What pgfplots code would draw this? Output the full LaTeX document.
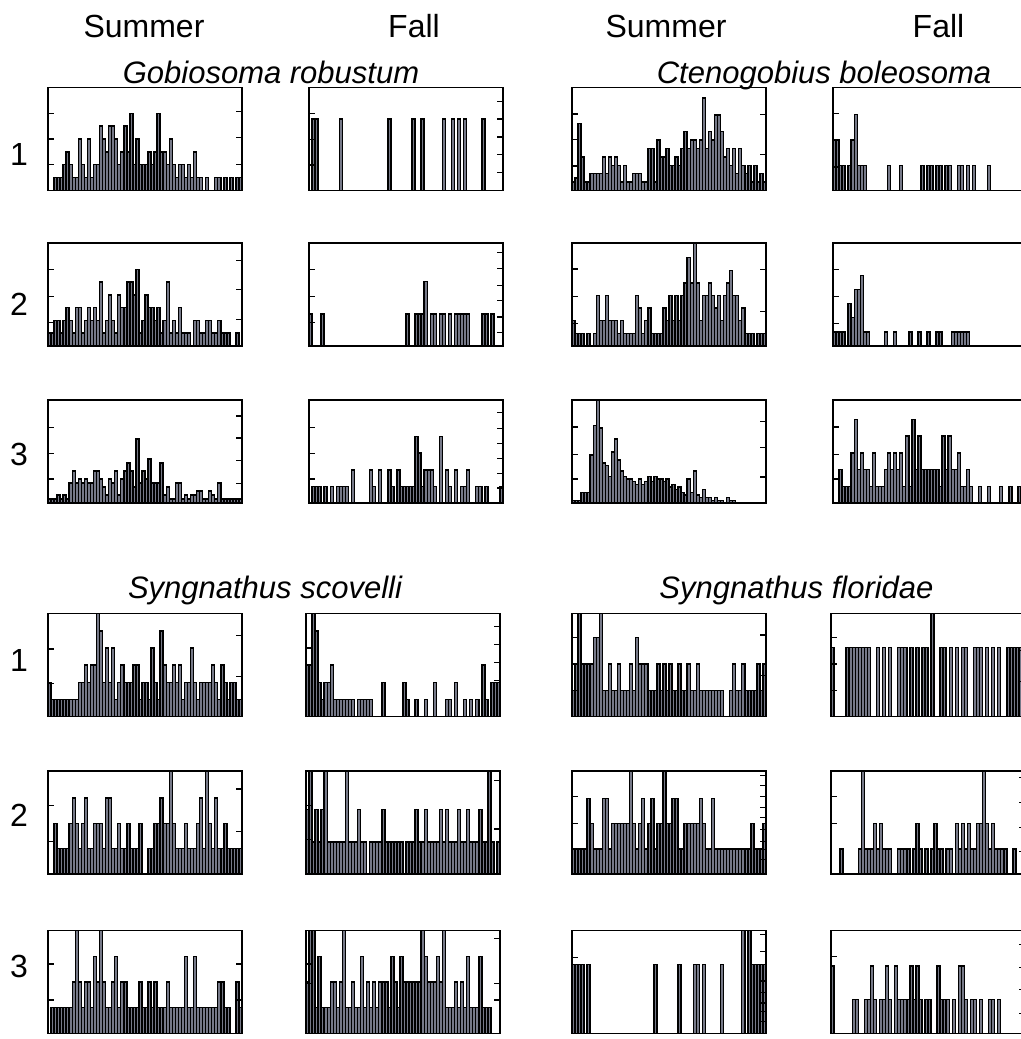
\documentclass[border=0pt]{standalone}
\usepackage{pgfplots}
\pgfplotsset{compat=1.18}
\usepackage{pgfplotstable}
\usepackage{fontspec}
\setmainfont{Liberation Sans}

\definecolor{barfill}{RGB}{118,121,136}

% ---------- length-frequency counts, 64 size classes per panel ----------
% Gobiosoma robustum
\pgfplotstableread[row sep=\\]{n\\ 0\\0\\1\\1\\1\\2\\3\\2\\1\\1\\ 4\\2\\1\\4\\1\\2\\2\\5\\4\\3\\ 5\\5\\4\\2\\3\\5\\3\\6\\2\\4\\ 2\\2\\2\\3\\2\\3\\6\\3\\3\\2\\ 4\\2\\1\\2\\2\\1\\2\\1\\3\\1\\ 1\\0\\1\\0\\0\\1\\1\\0\\1\\0\\ 1\\0\\1\\1\\}\gobSa
\pgfplotstableread[row sep=\\]{n\\ 0\\4\\4\\0\\0\\0\\0\\0\\0\\0\\ 4\\0\\0\\0\\0\\0\\0\\0\\0\\0\\ 0\\0\\0\\0\\0\\0\\4\\0\\0\\0\\ 0\\0\\0\\0\\4\\0\\0\\4\\0\\0\\ 0\\0\\0\\0\\4\\0\\0\\4\\0\\4\\ 0\\4\\0\\0\\0\\0\\0\\4\\0\\0\\ 0\\0\\0\\0\\}\gobFa
\pgfplotstableread[row sep=\\]{n\\ 1\\1\\2\\2\\1\\2\\3\\2\\1\\3\\ 3\\1\\2\\3\\2\\3\\2\\5\\1\\2\\ 4\\2\\1\\4\\3\\3\\5\\5\\4\\6\\ 1\\2\\4\\3\\3\\2\\3\\1\\2\\5\\ 1\\2\\1\\3\\1\\1\\1\\0\\2\\2\\ 1\\1\\2\\2\\1\\1\\2\\1\\1\\1\\ 0\\0\\1\\0\\}\gobSb
\pgfplotstableread[row sep=\\]{n\\ 2\\0\\0\\0\\2\\0\\0\\0\\0\\0\\ 0\\0\\0\\0\\0\\0\\0\\0\\0\\0\\ 0\\0\\0\\0\\0\\0\\0\\0\\0\\0\\ 0\\0\\2\\0\\0\\2\\2\\2\\4\\0\\ 2\\2\\0\\2\\2\\0\\2\\0\\2\\2\\ 2\\2\\2\\0\\0\\0\\0\\2\\2\\0\\ 2\\0\\0\\0\\}\gobFb
\pgfplotstableread[row sep=\\]{n\\ 1\\1\\1\\2\\1\\2\\1\\5\\8\\5\\ 6\\5\\6\\5\\5\\8\\8\\6\\4\\2\\ 6\\5\\8\\2\\6\\8\\10\\8\\4\\16\\ 5\\8\\6\\11\\5\\5\\5\\10\\2\\4\\ 1\\1\\5\\5\\1\\2\\1\\2\\2\\3\\ 3\\1\\1\\3\\2\\1\\5\\1\\1\\1\\ 1\\1\\1\\1\\}\gobSc
\pgfplotstableread[row sep=\\]{n\\ 0\\1\\1\\1\\0\\1\\0\\1\\0\\1\\ 1\\1\\1\\0\\2\\0\\0\\0\\0\\0\\ 2\\1\\0\\2\\0\\0\\2\\1\\0\\2\\ 1\\1\\1\\1\\1\\4\\3\\1\\2\\2\\ 2\\1\\0\\4\\0\\2\\1\\0\\2\\0\\ 1\\1\\2\\0\\0\\1\\1\\0\\1\\0\\ 0\\0\\0\\1\\}\gobFc
% Ctenogobius boleosoma
\pgfplotstableread[row sep=\\]{n\\ 2\\3\\16\\8\\2\\2\\4\\4\\4\\4\\ 8\\4\\8\\6\\8\\6\\2\\6\\2\\2\\ 4\\4\\4\\2\\2\\10\\10\\2\\12\\8\\ 8\\10\\6\\6\\8\\6\\10\\14\\10\\12\\ 12\\10\\12\\22\\10\\14\\12\\18\\18\\14\\ 8\\10\\6\\10\\4\\10\\6\\4\\6\\2\\ 6\\2\\4\\2\\}\ctenSa
\pgfplotstableread[row sep=\\]{n\\ 2\\2\\1\\1\\0\\1\\2\\3\\1\\1\\ 1\\0\\0\\0\\0\\0\\0\\0\\1\\0\\ 0\\0\\1\\0\\0\\0\\0\\0\\0\\1\\ 0\\1\\1\\0\\1\\1\\0\\1\\1\\0\\ 0\\1\\1\\0\\1\\0\\1\\0\\0\\0\\ 0\\1\\0\\0\\0\\0\\0\\0\\0\\0\\ 0\\0\\0\\0\\}\ctenFa
\pgfplotstableread[row sep=\\]{n\\ 2\\1\\1\\1\\0\\1\\0\\1\\4\\2\\ 2\\4\\2\\2\\2\\1\\2\\1\\1\\1\\ 1\\4\\3\\1\\2\\3\\1\\1\\1\\1\\ 3\\2\\4\\2\\4\\2\\4\\5\\7\\5\\ 9\\5\\2\\4\\4\\5\\4\\3\\4\\2\\ 4\\5\\6\\4\\4\\2\\3\\1\\1\\1\\ 0\\1\\1\\1\\}\ctenSb
\pgfplotstableread[row sep=\\]{n\\ 1\\1\\1\\1\\0\\3\\2\\4\\4\\5\\ 1\\1\\0\\0\\0\\0\\0\\1\\0\\0\\ 1\\0\\0\\0\\0\\1\\0\\0\\1\\0\\ 0\\1\\0\\0\\1\\1\\0\\0\\0\\1\\ 1\\1\\1\\1\\1\\0\\0\\0\\0\\0\\ 0\\0\\0\\0\\0\\0\\0\\0\\0\\0\\ 0\\0\\0\\0\\}\ctenFb
\pgfplotstableread[row sep=\\]{n\\ 1\\1\\1\\4\\4\\4\\18\\29\\40\\28\\ 15\\14\\10\\19\\24\\16\\12\\10\\9\\9\\ 8\\7\\9\\7\\8\\10\\8\\10\\9\\9\\ 8\\9\\6\\7\\5\\6\\4\\3\\9\\4\\ 12\\3\\2\\5\\2\\2\\1\\2\\1\\1\\ 0\\2\\1\\1\\0\\0\\0\\0\\0\\0\\ 0\\0\\0\\0\\}\ctenSc
\pgfplotstableread[row sep=\\]{n\\ 0\\0\\2\\1\\1\\1\\3\\5\\2\\3\\ 2\\2\\1\\3\\1\\1\\1\\2\\3\\2\\ 3\\2\\3\\1\\4\\1\\5\\2\\4\\2\\ 2\\2\\2\\2\\2\\1\\4\\2\\4\\2\\ 2\\3\\1\\1\\2\\1\\0\\0\\1\\0\\ 0\\1\\0\\0\\0\\1\\0\\0\\1\\0\\ 0\\1\\0\\0\\}\ctenFc
% Syngnathus scovelli
\pgfplotstableread[row sep=\\]{n\\ 2\\1\\1\\1\\1\\1\\1\\1\\1\\1\\ 2\\2\\3\\2\\3\\3\\7\\5\\2\\4\\ 2\\4\\1\\2\\3\\2\\2\\2\\3\\3\\ 1\\2\\2\\1\\4\\2\\1\\5\\3\\2\\ 2\\3\\2\\3\\1\\2\\2\\4\\2\\1\\ 2\\2\\2\\2\\3\\2\\1\\3\\2\\1\\ 2\\2\\1\\1\\}\scovSa
\pgfplotstableread[row sep=\\]{n\\ 3\\3\\7\\5\\2\\1\\2\\2\\3\\1\\ 1\\1\\1\\1\\1\\1\\0\\1\\1\\1\\ 1\\1\\0\\0\\0\\2\\0\\0\\0\\0\\ 0\\0\\2\\1\\0\\0\\1\\0\\0\\1\\ 0\\0\\2\\0\\0\\0\\1\\1\\0\\2\\ 0\\0\\1\\0\\1\\0\\1\\0\\3\\1\\ 0\\2\\2\\2\\}\scovFa
\pgfplotstableread[row sep=\\]{n\\ 0\\0\\2\\1\\1\\1\\1\\2\\3\\2\\ 1\\2\\3\\1\\1\\2\\2\\2\\1\\3\\ 3\\1\\1\\2\\1\\1\\2\\1\\1\\1\\ 2\\0\\0\\1\\1\\2\\2\\3\\2\\2\\ 5\\2\\1\\1\\1\\2\\1\\1\\1\\2\\ 3\\1\\5\\2\\1\\3\\1\\1\\2\\1\\ 1\\1\\1\\1\\}\scovSb
\pgfplotstableread[row sep=\\]{n\\ 2\\4\\1\\2\\1\\2\\4\\1\\1\\1\\ 1\\1\\1\\4\\1\\1\\1\\2\\1\\1\\ 0\\1\\1\\1\\1\\2\\1\\1\\1\\1\\ 1\\1\\0\\1\\1\\1\\2\\1\\1\\2\\ 1\\1\\1\\1\\2\\1\\2\\1\\1\\1\\ 2\\1\\1\\2\\1\\1\\1\\2\\1\\1\\ 4\\1\\0\\1\\}\scovFb
\pgfplotstableread[row sep=\\]{n\\ 0\\1\\1\\1\\1\\1\\1\\1\\2\\5\\ 2\\1\\2\\2\\1\\3\\2\\5\\2\\1\\ 1\\2\\3\\1\\2\\2\\1\\1\\1\\1\\ 2\\1\\1\\2\\1\\2\\1\\1\\1\\2\\ 1\\1\\1\\1\\1\\3\\1\\1\\3\\1\\ 1\\1\\1\\1\\1\\1\\2\\2\\1\\1\\ 0\\0\\2\\1\\}\scovSc
\pgfplotstableread[row sep=\\]{n\\ 2\\5\\5\\1\\3\\1\\1\\1\\2\\2\\ 1\\2\\5\\1\\1\\2\\1\\1\\3\\1\\ 2\\1\\2\\1\\2\\2\\2\\1\\3\\2\\ 1\\3\\2\\2\\2\\2\\2\\2\\5\\3\\ 2\\2\\2\\3\\2\\5\\1\\1\\1\\2\\ 1\\2\\1\\3\\1\\1\\1\\3\\1\\1\\ 1\\0\\0\\0\\}\scovFc
% Syngnathus floridae
\pgfplotstableread[row sep=\\]{n\\ 1\\2\\5\\2\\2\\2\\2\\3\\3\\5\\ 1\\1\\2\\1\\1\\2\\1\\1\\1\\2\\ 1\\3\\2\\2\\2\\1\\1\\1\\2\\1\\ 2\\1\\2\\1\\1\\2\\1\\1\\2\\1\\ 1\\2\\1\\1\\1\\1\\1\\1\\1\\1\\ 0\\0\\1\\2\\1\\1\\2\\1\\1\\1\\ 1\\2\\1\\2\\}\florSa
\pgfplotstableread[row sep=\\]{n\\ 1\\0\\0\\0\\0\\1\\1\\1\\1\\1\\ 1\\1\\1\\0\\0\\1\\0\\1\\0\\1\\ 0\\0\\1\\1\\1\\0\\1\\0\\1\\0\\ 1\\1\\0\\2\\0\\0\\1\\1\\0\\1\\ 0\\1\\0\\1\\1\\0\\0\\1\\1\\1\\ 0\\1\\0\\1\\0\\1\\0\\0\\1\\1\\ 1\\1\\1\\1\\}\florFa
\pgfplotstableread[row sep=\\]{n\\ 1\\1\\1\\1\\1\\3\\2\\1\\1\\1\\ 3\\3\\1\\2\\2\\2\\2\\2\\2\\5\\ 2\\1\\2\\3\\1\\2\\3\\1\\2\\2\\ 5\\2\\2\\3\\3\\1\\1\\2\\2\\2\\ 2\\2\\3\\2\\1\\1\\3\\1\\1\\1\\ 1\\1\\1\\1\\1\\1\\1\\1\\1\\2\\ 1\\1\\1\\2\\}\florSb
\pgfplotstableread[row sep=\\]{n\\ 0\\0\\0\\1\\0\\0\\0\\0\\0\\1\\ 5\\1\\1\\1\\2\\1\\2\\1\\1\\1\\ 0\\0\\1\\1\\1\\1\\0\\1\\2\\1\\ 0\\1\\0\\1\\2\\1\\1\\0\\1\\1\\ 0\\2\\1\\2\\1\\2\\1\\1\\2\\2\\ 5\\2\\1\\2\\1\\1\\1\\1\\0\\0\\ 1\\0\\0\\0\\}\florFb
\pgfplotstableread[row sep=\\]{n\\ 1\\1\\1\\1\\0\\1\\0\\0\\0\\0\\ 0\\0\\0\\0\\0\\0\\0\\0\\0\\0\\ 0\\0\\0\\0\\0\\0\\0\\1\\0\\0\\ 0\\0\\0\\0\\0\\1\\0\\0\\0\\0\\ 1\\1\\0\\1\\0\\0\\0\\0\\0\\1\\ 0\\0\\0\\0\\0\\0\\2\\0\\2\\1\\ 1\\1\\1\\1\\}\florSc
\pgfplotstableread[row sep=\\]{n\\ 2\\0\\0\\0\\0\\0\\0\\1\\1\\0\\ 0\\1\\1\\2\\1\\0\\1\\1\\2\\1\\ 0\\2\\1\\1\\1\\1\\2\\1\\2\\1\\ 0\\1\\1\\0\\0\\2\\1\\1\\1\\0\\ 1\\0\\2\\2\\1\\0\\1\\1\\0\\1\\ 0\\0\\1\\1\\0\\1\\0\\0\\0\\0\\ 0\\0\\0\\0\\}\florFc

\pgfplotsset{
  hist/.style={
    scale only axis, width=97pt, height=51.5pt, anchor=north west,
    xmin=0, xmax=64, ymin=0,
    axis on top,
    axis line style={line width=0.9pt},
    xtick=\empty, minor xtick={0,1,...,64}, minor tick length=1.3pt,
    xtick pos=right,
    major tick length=3pt,
    yticklabels={}, xticklabels={},
    tick align=inside,
    every tick/.style={black, line width=0.6pt},
  },
  bars/.style={ybar, bar width=1, bar shift=0pt, fill=barfill, draw=black, line width=0.72pt},
}

% #1,#2: top-left corner in px; #3: ymax; #4: left ticks; #5: right ticks; #6: table
\newcommand{\hpanel}[6]{%
  \begin{axis}[hist, at={({#1*0.5pt},{-#2*0.5pt})}, ymax=#3, ytick={#4}, ytick pos=left]
    \addplot[bars] table[x expr=\coordindex+0.5, y index=0] {#6};
  \end{axis}
  \begin{axis}[hist, at={({#1*0.5pt},{-#2*0.5pt})}, ymax=#3, ytick={#5}, ytick pos=right, minor xtick={}]
  \end{axis}}

\begin{document}
\begin{tikzpicture}
\path[use as bounding box] (0,0) rectangle (510.5pt,-519.5pt);
\clip (0,0) rectangle (510.5pt,-519.5pt);

% column and row headings
\begin{scope}[every node/.style={font=\fontsize{16pt}{16pt}\selectfont, anchor=base}]
  \node at (72pt,-18.5pt) {Summer};
  \node at (207pt,-18.5pt) {Fall};
  \node at (333pt,-18.5pt) {Summer};
  \node at (469.25pt,-18.5pt) {Fall};
  \node at (9.5pt,-82.5pt) {1};
  \node at (9.5pt,-157.5pt) {2};
  \node at (9.5pt,-232.5pt) {3};
  \node at (9.5pt,-335.5pt) {1};
  \node at (9.5pt,-413pt) {2};
  \node at (9.5pt,-488.5pt) {3};
\end{scope}
\begin{scope}[every node/.style={font=\fontsize{15.5pt}{15.5pt}\selectfont\itshape, anchor=base}]
  \node at (135.5pt,-41.5pt) {Gobiosoma robustum};
  \node at (412pt,-41.5pt) {Ctenogobius boleosoma};
  \node at (132.5pt,-299pt) {Syngnathus scovelli};
  \node at (398.25pt,-299pt) {Syngnathus floridae};
\end{scope}

% Gobiosoma robustum
\hpanel{48}{87.5}{8}{2,4,6}{2.05,4.1,6.15}{\gobSa}
\hpanel{309}{87.5}{5.77}{1.43,2.87,4.3}{1,2,3,4,5}{\gobFa}
\hpanel{48}{243}{8.05}{1.84,3.9,6}{2.1,4.4,6.7}{\gobSb}
\hpanel{309}{243}{6.4}{1.46,3.08,4.75}{0.83,1.8,2.83,3.77,4.8,5.83}{\gobFb}
\hpanel{48}{400}{25.8}{6,12.5,18.9}{4.8,10.6,16.3,21.8}{\gobSc}
\hpanel{309}{400}{6.2}{1.44,3,4.54}{0.9,1.8,2.7,3.6,4.5,5.44}{\gobFc}
% Ctenogobius boleosoma
\hpanel{572}{87.5}{24.5}{5.84,12.1,18.2}{8.5,18}{\ctenSa}
\hpanel{833}{87.5}{4.08}{0.93,2,3.04}{0.7,1.5,2.3,3.1}{\ctenFa}
\hpanel{572}{243}{8.16}{1.8,3.95,6.1}{2.75,6.08}{\ctenSb}
\hpanel{833}{243}{7.3}{1.62,3.52,5.43}{0.7,1.7,2.7,3.7,4.7,5.7,6.7}{\ctenFb}
\hpanel{572}{400}{38.5}{9,18.1,28.4}{9.75,20.6,30.6}{\ctenSc}
\hpanel{833}{400}{6.16}{1.44,2.9,4.54}{1.6,3.3,5.16}{\ctenFc}
% Syngnathus scovelli
\hpanel{48}{613.5}{6.02}{1.94,3.94}{2.33,4.72}{\scovSa}
\hpanel{306}{613.5}{6.02}{2.97,4}{2.1,3.17,4.2,5.24}{\scovFa}
\hpanel{48}{771}{4.06}{1.27,2.7}{1.66,3.35}{\scovSb}
\hpanel{306}{771}{3.2}{1.06,2.12}{1.4,2.9}{\scovFb}
\hpanel{48}{930.5}{4}{1.3,2.7}{1.3,2.7}{\scovSc}
\hpanel{306}{930.5}{4}{1.95,2.7}{1.3,1.95,3.7}{\scovFc}
% Syngnathus floridae
\hpanel{572}{613.5}{3.92}{1,2,3}{1.56,3.1}{\florSa}
\hpanel{831}{613.5}{1.49}{0.375,0.76,1.14}{0.51,0.95}{\florFa}
\hpanel{572}{771}{4.1}{2,3.1}{0.57,0.97,1.31,1.77,2.24,2.64,3.1,3.53,3.93}{\florSb}
\hpanel{831}{771}{4.1}{2,3.1}{0.9,1.85,2.85,3.85}{\florFb}
\hpanel{572}{930.5}{1.49}{1.1}{0.17,0.32,0.44,0.59,0.76,1.19,1.43}{\florSc}
\hpanel{831}{930.5}{3.05}{2.27}{0.6,1.3,1.95,2.63}{\florFc}
\end{tikzpicture}
\end{document}
